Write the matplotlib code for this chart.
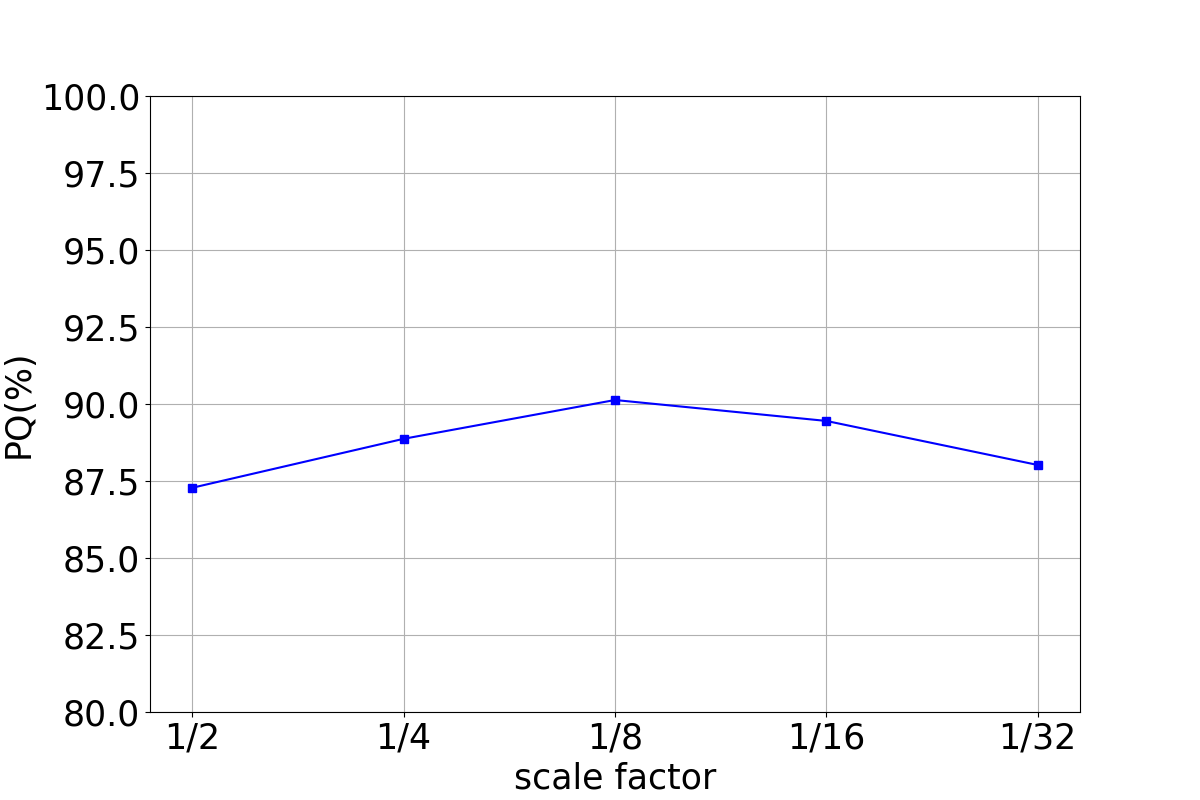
import matplotlib
matplotlib.use('Agg')
import matplotlib.pyplot as plt

# data
scale_labels = ["1/2", "1/4", "1/8", "1/16", "1/32"]
pq_values = [87.28, 88.87, 90.13, 89.45, 88.02]

fig, ax = plt.subplots(figsize=(12, 8), dpi=100)
ax.plot(range(len(scale_labels)), pq_values, color="blue", marker="s", markersize=6, linewidth=1.5)
ax.set_xticks(range(len(scale_labels)))
ax.set_xticklabels(scale_labels)
ax.set_ylim(80, 100)
ax.tick_params(labelsize=25)
ax.set_xlabel("scale factor", fontsize=25)
ax.set_ylabel("PQ(%)", fontsize=25)
ax.grid()

fig.savefig("out.png")
